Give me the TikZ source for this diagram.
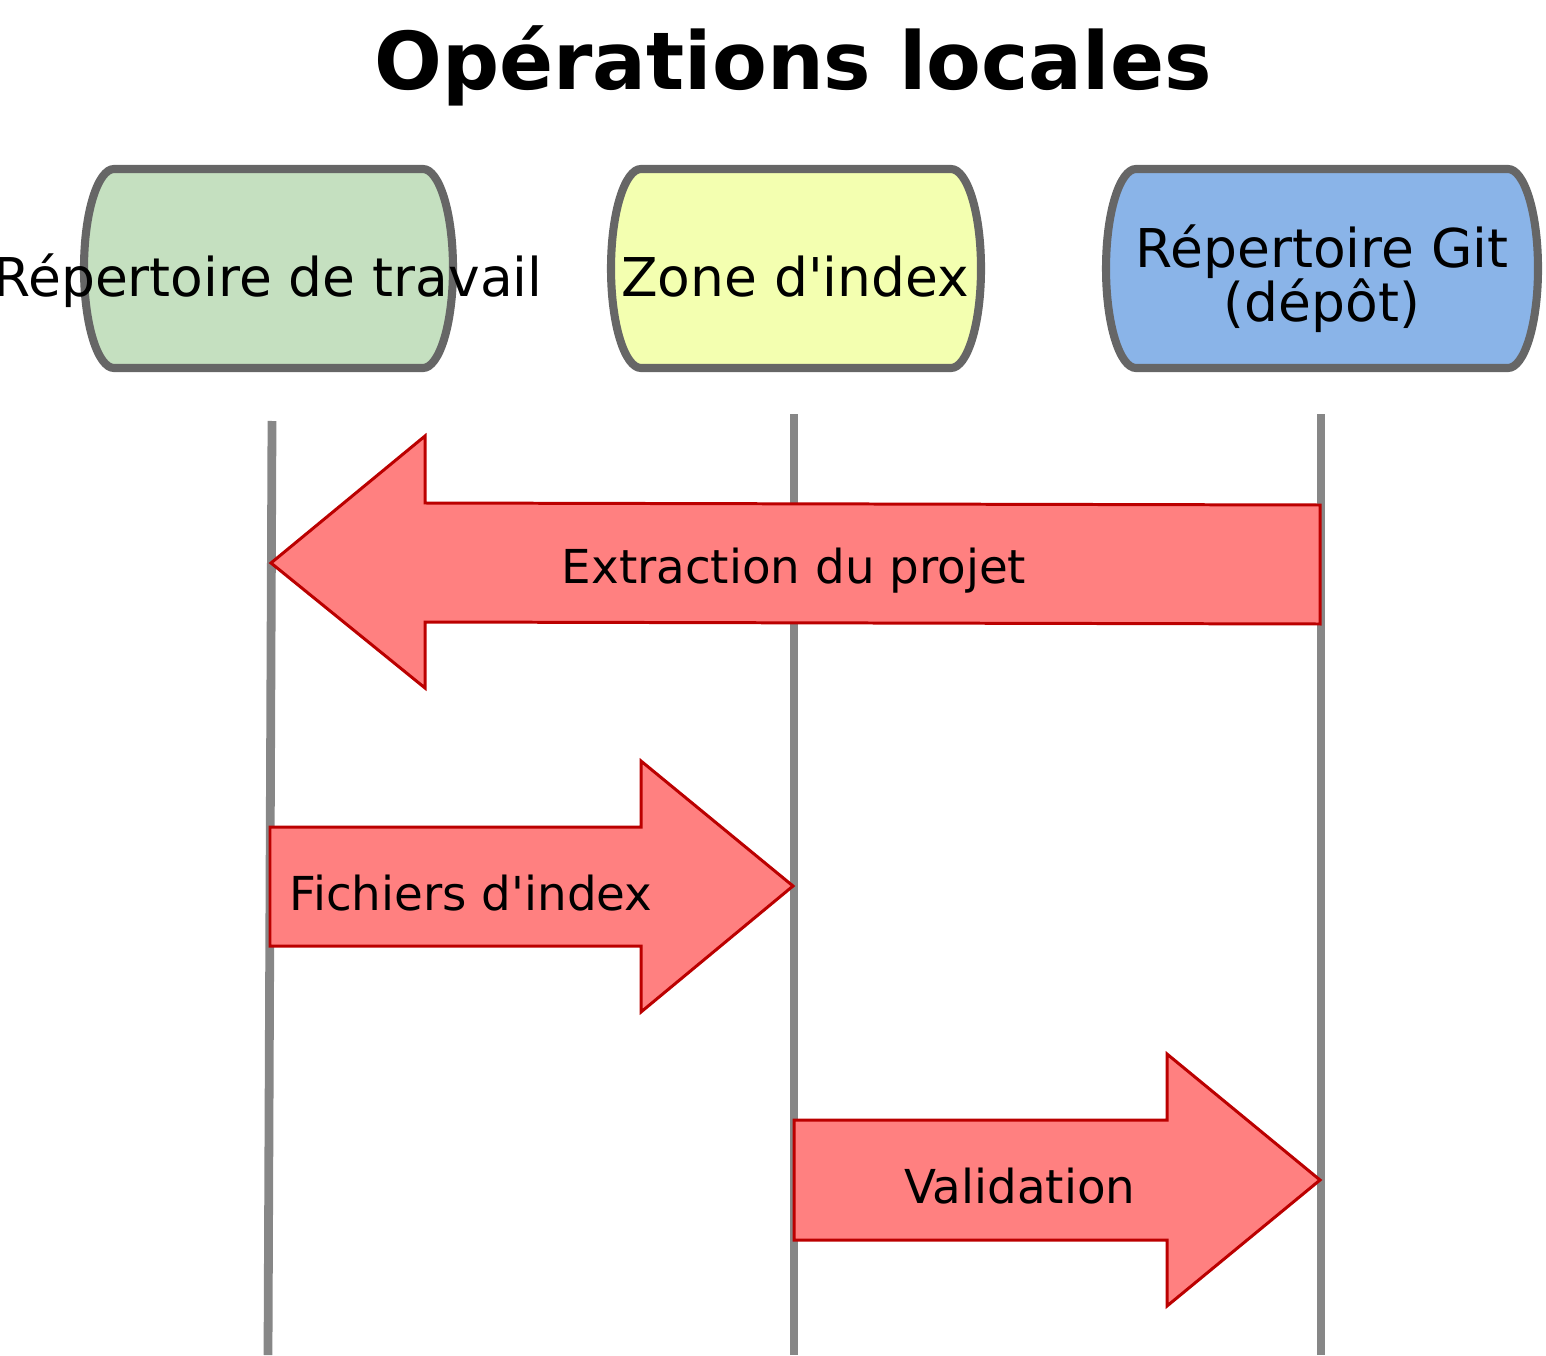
\documentclass[tikz,border=0pt]{standalone}
\usepackage{fontspec}
\setmainfont{DejaVu Sans}
\usepackage{xcolor}

\definecolor{workgreen}{HTML}{C5E0C0}
\definecolor{indexyellow}{HTML}{F3FFB0}
\definecolor{gitblue}{HTML}{8AB4E8}
\definecolor{arrowfill}{HTML}{FF8080}
\definecolor{arrowline}{HTML}{BB0000}

\begin{document}
\begin{tikzpicture}[x=0.01cm,y=-0.01cm]
        \tikzset{actor/.style={draw=black!60, line width=2.3pt},
                 actorlabel/.style={anchor=base, inner sep=0pt,
                    align=center, font=\fontsize{15.2}{15.4}\selectfont},
                 lane/.style={draw=black!47, line width=2.5pt},
                 bigarrow/.style={fill=arrowfill, draw=arrowline,
                    line width=0.85pt, line join=miter},
                 arrowlabel/.style={anchor=base, inner sep=0pt,
                    font=\fontsize{13.3}{15}\selectfont}}
        \useasboundingbox (0,0) rectangle (1546,1355);

        % title
        \node[anchor=base, inner sep=0pt, font=\fontsize{22.7}{25}\selectfont\bfseries]
            (title) at (793,90) {Opérations locales};

        % the three areas
        \foreach \xa/\xb/\col in {84/453/workgreen, 611/981/indexyellow, 1106/1538/gitblue}
            \draw[actor, fill=\col] (\xa+30,169) -- (\xb-30,169)
                .. controls (\xb-14,169) and (\xb,212) .. (\xb,268.5)
                .. controls (\xb,325) and (\xb-14,368) .. (\xb-30,368)
                -- (\xa+30,368)
                .. controls (\xa+14,368) and (\xa,325) .. (\xa,268.5)
                .. controls (\xa,212) and (\xa+14,169) .. (\xa+30,169) -- cycle;
        \node[actorlabel] (work) at (268,297) {Répertoire de travail};
        \node[actorlabel] (index) at (795,297) {Zone d\textquotesingle index};
        \node[actorlabel, anchor=center] (git) at (1322,279) {Répertoire Git\\(dépôt)};

        % lifelines
        \coordinate (worktop) at (272,421);
        \coordinate (workbot) at (268,1355);
        \coordinate (indextop) at (794,414);
        \coordinate (indexbot) at (794,1355);
        \coordinate (gittop) at (1321,414);
        \coordinate (gitbot) at (1321,1355);
        \draw[lane] (worktop) -- (workbot);
        \draw[lane] (indextop) -- (indexbot);
        \draw[lane] (gittop) -- (gitbot);

        % operations
        \draw[bigarrow] (1320,505) -- (425,503) -- (425,436) -- (271,563)
            -- (425,688) -- (425,622) -- (1320,624) -- cycle;
        \node[arrowlabel] (checkout) at (794,583) {Extraction du projet};

        \draw[bigarrow] (270,827) -- (641,827) -- (641,761) -- (793,886)
            -- (641,1012) -- (641,946) -- (270,946) -- cycle;
        \node[arrowlabel] (stage) at (471,910) {Fichiers d\textquotesingle index};

        \draw[bigarrow] (794,1120) -- (1167,1120) -- (1167,1054) -- (1320,1180)
            -- (1167,1306) -- (1167,1240) -- (794,1240) -- cycle;
        \node[arrowlabel] (commit) at (1020,1203) {Validation};
    \end{tikzpicture}
\end{document}
